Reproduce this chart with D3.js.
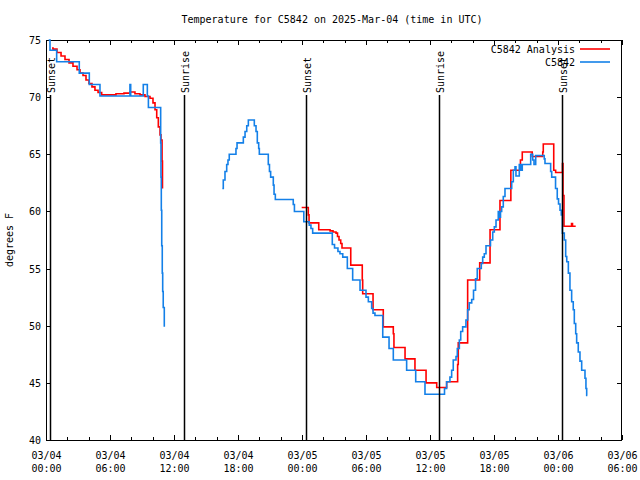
<!DOCTYPE html>
<html><head><meta charset="utf-8">
<script src="https://cdn.jsdelivr.net/npm/d3@7"></script>
<style>
body{margin:0;background:#fff}
text{font-family:"DejaVu Sans Mono","Liberation Mono",monospace;font-size:10px;fill:#000}
</style>
</head><body>
<svg id="chart" width="640" height="480"></svg>
<script>
// ---- data (time as hours after 2025-03-04 00:00 UTC, temperatures in °F) ----
const startUTC = Date.UTC(2025, 2, 4, 0, 0);
const spanHours = 54;
const titleText = "Temperature for C5842 on 2025-Mar-04 (time in UTC)";
const yLabelText = "degrees F";
const seriesNames = ["C5842 Analysis", "C5842"];
const seriesColors = ["#ff0000", "#1480e8"];
const yTicks = [40, 45, 50, 55, 60, 65, 70, 75];

const analysisHours = [0.56,0.66,1.03,1.41,1.78,2.16,2.53,2.91,3.19,3.47,3.75,4.03,4.31,4.59,4.88,5.22,6.56,7.31,7.87,8.34,8.81,9.28,9.75,10.03,10.22,10.38,10.53,10.69,10.78,10.88,10.92,
  10.95,
  23.97,24.59,24.66,25.57,26.63,26.91,27.19,27.33,27.47,27.63,27.75,28.57,29.65,29.69,30.66,31.62,32.56,32.62,33.66,34.59,35.63,36.63,37.56,38.59,38.65,39.53,40.66,41.63,42.56,43.58,44.48,44.65,45.58,46.57,46.62,47.6,47.78,48.42,48.47,48.56,49.27,49.36,49.66];
const analysisTemps = [74.3,74.2,73.9,73.6,73.3,73.0,72.7,72.4,72.1,71.9,71.5,71.2,70.9,70.6,70.4,70.2,70.3,70.35,70.45,70.3,70.2,70.05,69.9,69.5,68.9,68.2,67.4,66.7,66.25,64.4,62.0,
  null,
  60.35,59.7,59.0,58.4,58.3,58.2,58.1,57.8,57.5,57.2,56.8,55.3,54.0,52.8,51.4,49.9,49.3,48.1,47.1,46.1,45.0,44.6,45.1,46.6,48.5,54.0,55.5,58.4,60.95,63.6,64.5,65.2,64.8,65.2,65.9,63.6,63.4,64.2,61.4,58.7,58.95,58.7,58.7];

const obsHours = [0.25,0.375,1.0,3.12,4.06,5.06,7.87,7.94,9.12,9.5,9.6,10.75,10.78,10.81,10.85,10.9,10.94,10.99,11.09,
  11.1,
  16.53,16.62,16.78,16.94,17.06,17.18,17.81,17.91,18.5,18.66,18.82,18.97,19.53,19.69,19.81,19.94,20.0,20.84,20.95,21.06,21.31,21.38,21.5,23.18,23.29,24.17,24.68,24.84,25.0,26.84,27.05,27.37,27.56,27.82,28.25,28.75,29.44,30.0,30.22,30.53,30.66,30.84,31.57,32.16,32.56,33.81,34.66,35.53,37.36,37.56,37.87,38.03,38.18,38.44,38.56,38.75,38.88,39.06,39.37,39.53,39.68,39.91,40.08,40.27,40.43,40.81,40.94,41.09,41.25,41.67,41.88,42.03,42.19,42.4,42.5,42.61,42.72,42.87,43.03,43.66,43.81,43.97,44.06,44.37,44.5,44.65,45.44,45.63,45.75,45.91,46.71,46.78,47.31,47.41,47.77,47.93,48.05,48.19,48.31,48.41,48.59,48.72,48.82,48.97,49.12,49.28,49.43,49.53,49.66,49.75,49.9,50.06,50.22,50.53,50.62,50.69,50.75];
const obsTemps = [75.0,74.1,73.1,72.1,71.1,70.1,71.1,70.1,71.1,70.1,69.1,66.0,63.0,60.1,57.0,54.6,53.0,51.6,49.9,
  null,
  62.0,62.75,63.5,64.1,64.5,65.0,65.5,66.0,66.5,67.0,67.5,68.0,67.5,67.0,66.0,65.5,65.0,64.1,63.5,63.0,62.3,61.5,61.05,60.6,60.0,59.1,58.8,58.5,58.1,57.1,56.8,56.5,56.3,56.0,55.0,54.0,53.1,52.5,52.1,51.5,51.1,50.9,49.0,48.0,47.0,46.1,45.1,44.0,44.5,45.1,45.5,46.1,47.0,47.3,48.0,48.75,49.5,49.9,50.5,51.4,52.0,52.3,53.1,54.1,55.0,55.45,56.0,56.3,57.0,57.5,58.2,58.65,59.25,60.0,59.5,60.0,60.4,61.3,62.0,62.6,63.6,63.9,63.1,64.1,63.6,64.1,65.0,64.5,64.1,64.9,64.6,64.2,63.5,63.0,62.0,61.1,60.65,60.1,59.7,58.1,57.5,56.05,55.6,54.6,53.1,52.1,51.4,50.2,49.3,48.5,47.7,46.9,46.1,45.4,44.5,43.9,43.9];

const eventHours = [0.42, 12.94, 24.38, 36.87, 48.40];
const eventLabels = ["Sunset", "Sunrise", "Sunset", "Sunrise", "Sunset"];

// ---- layout ----
const L = 46, R = 622, T = 40, B = 440;
const svg = d3.select("#chart");
const toDate = h => new Date(startUTC + h * 3600000);

const x = d3.scaleUtc().domain([toDate(0), toDate(spanHours)]).range([L, R]);
const y = d3.scaleLinear().domain([40, 75]).range([B, T]);

// title
svg.append("text").attr("x", 332).attr("y", 22.5).attr("text-anchor", "middle").text(titleText);
// y label
svg.append("text").attr("transform", "translate(13,240) rotate(-90)").attr("text-anchor", "middle").text(yLabelText);

// axes (inward ticks)
const major = d3.utcHour.every(6), minor = d3.utcHour.every(2);
const fmtD = d3.utcFormat("%m/%d"), fmtT = d3.utcFormat("%H:%M");

svg.append("g").attr("transform", `translate(0,${B})`)
  .call(d3.axisBottom(x).ticks(minor).tickSize(-3).tickFormat(""));
svg.append("g").attr("transform", `translate(0,${T})`)
  .call(d3.axisTop(x).ticks(minor).tickSize(-3).tickFormat(""));
const gxB = svg.append("g").attr("transform", `translate(0,${B})`)
  .call(d3.axisBottom(x).ticks(major).tickSize(-5).tickFormat(""));
svg.append("g").attr("transform", `translate(0,${T})`)
  .call(d3.axisTop(x).ticks(major).tickSize(-5).tickFormat(""));
gxB.selectAll(".tick").each(function(d){
  const t = d3.select(this).append("text").attr("text-anchor","middle");
  t.append("tspan").attr("x",0).attr("y",18.5).text(fmtD(d));
  t.append("tspan").attr("x",0).attr("y",31.5).text(fmtT(d));
});
const gyL = svg.append("g").attr("transform", `translate(${L},0)`)
  .call(d3.axisLeft(y).tickValues(yTicks).tickSize(-5).tickPadding(5).tickFormat(d3.format("d")));
svg.append("g").attr("transform", `translate(${R},0)`)
  .call(d3.axisRight(y).tickValues(yTicks).tickSize(-5).tickFormat(""));
svg.selectAll(".domain").remove();
svg.selectAll(".tick line").attr("stroke", "#000").attr("shape-rendering", "crispEdges");
svg.selectAll(".tick text").attr("font-family", null).attr("font-size", null).attr("fill", "#000");
gyL.selectAll(".tick text").attr("dy", "0.35em");

// frame
svg.append("rect").attr("x", L + 0.5).attr("y", T + 0.5).attr("width", R - L - 1).attr("height", B - T)
  .attr("fill", "none").attr("stroke", "#000").attr("stroke-width", 1).attr("shape-rendering", "crispEdges");

// series
const mk = (hs, vs) => hs.map((h, i) => ({t: toDate(h), v: vs[i]}));
const line = d3.line().defined(d => d.v !== null).x(d => x(d.t)).y(d => y(d.v)).curve(d3.curveStepAfter);
svg.append("clipPath").attr("id", "clp").append("rect").attr("x", L).attr("y", T - 1).attr("width", R - L).attr("height", B - T + 1);
svg.append("path").datum(mk(analysisHours, analysisTemps)).attr("d", line)
  .attr("fill", "none").attr("stroke", seriesColors[0]).attr("stroke-width", 1.6).attr("clip-path", "url(#clp)");
svg.append("path").datum(mk(obsHours, obsTemps)).attr("d", line)
  .attr("fill", "none").attr("stroke", seriesColors[1]).attr("stroke-width", 1.6).attr("clip-path", "url(#clp)");

// legend
seriesNames.forEach((n, i) => {
  const yy = 49 + i * 13;
  svg.append("text").attr("x", 575).attr("y", yy + 3.5).attr("text-anchor", "end").text(n);
  svg.append("line").attr("x1", 580).attr("x2", 610).attr("y1", yy).attr("y2", yy)
    .attr("stroke", seriesColors[i]).attr("stroke-width", 1.6);
});

// sunrise / sunset markers
eventHours.forEach((h, i) => {
  const xx = Math.round(x(toDate(h))) + 0.5;
  svg.append("line").attr("x1", xx).attr("x2", xx).attr("y1", 95).attr("y2", B)
    .attr("stroke", "#000").attr("stroke-width", 1.5);
  svg.append("text").attr("transform", `translate(${xx + 4},93) rotate(-90)`).attr("text-anchor", "start").text(eventLabels[i]);
});
</script>
</body></html>
